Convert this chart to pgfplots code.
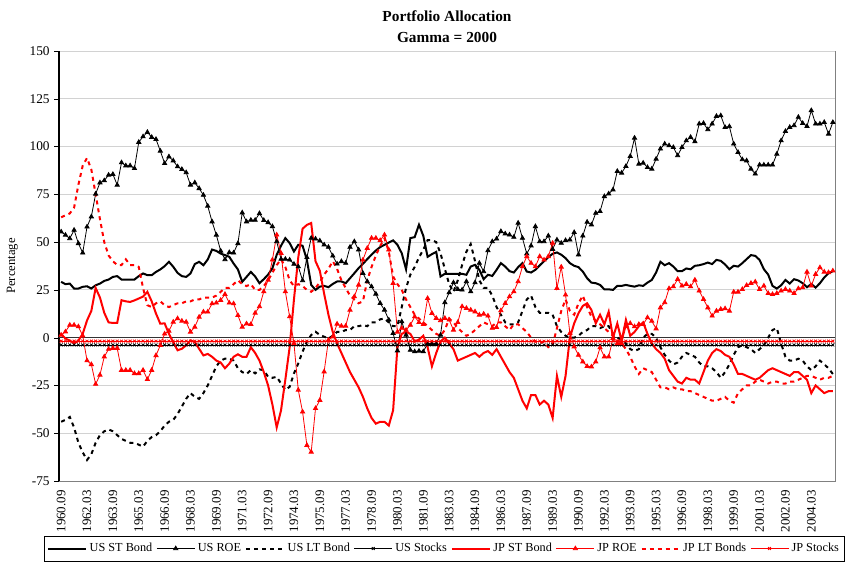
\documentclass[border=0pt]{standalone}
\usepackage{pgfplots}
\pgfplotsset{compat=1.18}
\usepackage{pgfplotstable}
\usepackage{fontspec}
\setmainfont{Liberation Serif}

% quarterly allocations, 1960.09 = 0
\pgfplotstableread{
i usst usroe uslt usstk jpst jproe jplt jpstk
0 29.2 55.4 -44 -3.8 2 1.4 63 -1.8
1 28 53.7 -43 -3.8 -0.5 3.1 64 -1.8
2 28.3 51.9 -41.5 -3.8 -1.5 6.6 65 -1.8
3 25.7 56.3 -47 -3.8 -3 6.6 68 -1.8
4 25.7 49.3 -55 -3.8 -1.5 5.8 80 -1.8
5 26.6 44.4 -60 -3.8 2 1 90 -1.8
6 26.9 58 -64 -3.8 9 -12 94 -1.8
7 25.7 63.3 -61 -3.8 14 -14 88 -1.8
8 27.4 75.2 -55 -3.8 26 -24.3 75 -1.8
9 28.3 81.1 -51 -3.8 21 -19.5 62 -1.8
10 29.7 82.2 -49 -3.8 13 -10 50 -1.8
11 30.4 85.1 -48 -3.8 8 -6 43 -1.8
12 31.8 85.5 -49 -3.8 7.7 -5.5 40 -1.8
13 32.2 79.9 -51 -3.8 7.7 -5.5 38 -1.8
14 30.4 91.6 -53 -3.8 19.6 -17 38 -1.8
15 30.4 90 -54 -3.8 19 -17 41 -1.8
16 30.4 90 -55 -3.8 18.7 -17 38 -1.8
17 30.4 88.6 -55 -3.8 19.5 -18.7 38 -1.8
18 32.2 102.3 -56 -3.8 20.5 -18.7 37 -1.8
19 33.6 105.2 -57 -3.8 21.5 -17 26 -1.8
20 32.7 107.5 -54 -3.8 24 -21.8 17 -1.8
21 32.7 104.9 -52 -3.8 19 -17 16 -1.8
22 34.4 103.8 -51 -3.8 12.6 -9.3 18 -1.8
23 35.7 97.7 -49 -3.8 7.3 -4 19 -1.8
24 37.4 91.2 -46 -3.8 7.5 2 17 -1.8
25 39.7 94.7 -44 -3.8 2 3.5 16 -1.8
26 37.1 92.6 -43 -3.8 -2.3 8.2 17 -1.8
27 33.9 89.5 -40 -3.8 -6.6 10 18 -1.8
28 32.2 88.1 -36 -3.8 -5.8 8.7 18 -1.8
29 31.8 86.4 -32 -3.8 -4 8.2 19 -1.8
30 33.6 79.9 -29 -3.8 -1.4 3 19 -1.8
31 38.5 81.1 -31 -3.8 -2.3 5.6 20 -1.8
32 39.7 78.1 -32 -3.8 -5.8 10.8 20 -1.8
33 37.9 74.6 -29 -3.8 -9.3 13.5 21 -1.8
34 40.9 68.9 -25 -3.8 -8.5 13.5 21 -1.8
35 46.1 60.7 -20 -3.8 -10 17.8 21 -1.8
36 45.4 53.7 -15 -3.8 -12 18.2 22 -1.8
37 44 45.4 -12 -3.8 -13 19.6 24 -1.8
38 43.2 40.9 -11 -3.8 -16 22.7 26 -1.8
39 42.3 44.6 -11 -3.8 -13.6 18.2 26 -1.8
40 38.8 44.4 -12 -3.8 -10 17.8 28 -1.8
41 35.7 49.3 -16 -3.8 -8.7 11.7 30 -1.8
42 29.2 65.4 -18 -3.8 -10 5.6 28 -1.8
43 31.8 60.7 -19 -3.8 -10 7.3 27 -1.8
44 34.4 61.5 -17 -3.8 -5 7 28 -1.8
45 32 61.5 -18.7 -3.8 -8 12.9 25 -1.8
46 28.5 65 -16.6 -3.8 -12 16.3 25 -1.8
47 30.6 61.4 -17 -3.8 -18 24.1 27 -1.8
48 33 60.3 -20.5 -3.8 -25 30.2 30 -1.8
49 36.3 58.2 -21 -3.8 -35 40.7 34 -1.8
50 43.4 50.3 -20.5 -3.8 -47 53.8 38 -1.8
51 48.1 41.1 -24 -3.8 -38 44.2 41 -1.8
52 52.1 41.1 -27.4 -3.8 -22 24.1 37 -1.8
53 49.5 40.7 -25.7 -3.8 -5 11 30 -1.8
54 45.1 38.5 -18.7 -3.8 20 -3 27 -1.8
55 48.6 37.2 -13.5 -3.8 42 -27.4 28 -1.8
56 48.1 29.9 -7.3 -3.8 57 -38.8 27 -1.8
57 40.7 42 -2 -3.8 59 -56.3 25 -1.8
58 27.6 52.1 1.4 -3.8 60 -59.8 24 -1.8
59 25 51.7 3.1 -3.8 40 -37 26 -1.8
60 26.7 50.7 1.4 -3.8 35 -32.7 29 -1.8
61 27.1 48.6 0.5 -3.8 23 -17.8 33 -1.8
62 26.4 47.4 -0.5 -3.8 12 -1.2 36 -1.8
63 28.1 42.8 1 -3.8 3 0.5 40 -1.8
64 29.4 38.6 3 -3.8 -3 7.2 36 -1.8
65 29.4 39.9 3 -3.8 -8 6.1 30 -1.8
66 28.5 39 4 -3.8 -13 6.1 26 -1.8
67 31.1 47.4 4 -3.8 -18 14.5 22 -1.8
68 33.7 50.3 6 -3.8 -22 21.5 20 -1.8
69 36.4 46 6 -3.8 -26 27.6 18 -1.8
70 38.6 33.7 6.6 -3.8 -31 40.7 19 -1.8
71 41.1 29.4 6 -3.8 -37 46.8 30 -1.8
72 43.4 26.7 8 -3.8 -42 52.1 37 -1.8
73 45.6 22.9 8 -3.8 -45 52.1 43 -1.8
74 47.4 18 9.6 -3.8 -44 50.9 48 -1.8
75 48.6 14.5 10 -3.8 -44 53.8 52 -1.8
76 49.8 9.3 8 -3.8 -46 46 45 -1.8
77 50.9 2.3 6 -3.8 -38 28.5 32 -1.8
78 48.6 -6.8 6 -3.8 -5 3 28 -1.8
79 44.2 8.4 16 -3.8 2 5 25 -1.8
80 35.8 1.4 26 -3.8 3 4 20 -1.8
81 52.1 -6.5 33 -3.8 2 6.6 16 -1.8
82 52.6 -7.3 37 -3.8 -2 11 12 -1.8
83 59.1 -7 42 -3.8 -1 8 10 -1.8
84 53.3 -7.3 46 -3.8 1 7 8 -1.8
85 42.3 -3 51 -3.8 -5 20.6 6 -1.8
86 43.7 -3.3 51 -3.8 -15 12.8 4 -1.8
87 44.9 -3 50 -3.8 -8 10.2 2 -1.8
88 32 1.4 44 -3.8 -2 9 1 -1.8
89 33.4 18.4 36 -3.8 0 10.2 4 -1.8
90 33.4 23.6 28 -3.8 -3 9.3 10 -1.8
91 33.4 28.8 24 -3.8 -6 4 8 -1.8
92 33.4 25.3 30 -3.8 -12 8 5 -1.8
93 33.4 25 38 -3.8 -11 16.3 3 -1.8
94 32.9 29.4 45 -3.8 -10 15.4 1 -1.8
95 37.2 24.1 49 -3.8 -9 14.5 2 -1.8
96 38.1 28.8 40 -3.8 -8 13.6 4 -1.8
97 35.5 39 30 -3.8 -10 11.9 6 -1.8
98 30.6 34.6 26 -3.8 -8 12.4 8 -1.8
99 32.9 45.6 26 -3.8 -7 11.4 7 -1.8
100 32.3 50.3 22 -3.8 -9 5 6 -1.8
101 35.5 51.7 16 -3.8 -6 5.4 8 -1.8
102 39 55.6 12 -3.8 -10 14.2 8 -1.8
103 37.2 54.4 8 -3.8 -14 18 6 -1.8
104 34.8 53.8 7 -3.8 -18 21.5 4 -1.8
105 34.1 52.6 7 -3.8 -21 24.1 7 -1.8
106 36.9 60 8 -3.8 -27 29.4 7 -1.8
107 39 52.1 14 -3.8 -33 37.2 5 -1.8
108 34.6 43.9 20 -3.8 -37 42.5 3 -1.8
109 34.1 48.1 22 -3.8 -30 39 0 -1.8
110 35.5 58.2 16 -3.8 -30 37.2 -2 -1.8
111 37.8 50.3 13 -3.8 -35 42.5 -3 -1.8
112 40 50.3 13 -3.8 -33 40.7 -2 -1.8
113 42.1 53.3 13 -3.8 -35 42.5 -5 -1.8
114 43.9 46.3 12 -3.8 -42 49.5 -4 -1.8
115 44.6 51.2 6 -3.8 -20 25.9 5 -1.8
116 43.4 49.5 3 -3.8 -31 37 14 -1.8
117 41.6 50.9 1 -3.8 -20 22.4 20 -1.8
118 39 51.2 0 -3.8 0 2.3 14 -1.8
119 37.6 55.1 0 -3.8 7.5 -4.7 12 -1.8
120 36.9 43.4 1 -3.8 12.8 -9.1 18 -1.8
121 34.6 53.3 3 -3.8 16.6 -12.6 22 -1.8
122 31.1 60.5 4 -3.8 18 -15 16 -1.8
123 28.8 59.1 6 -3.8 14.5 -15.2 11 -1.8
124 28.5 65.2 6 -3.8 7.5 -12.6 9 -1.8
125 27.6 66.1 5 -3.8 12 -5.2 7 -1.8
126 25.3 73.9 6 -3.8 7 -10 5 -1.8
127 25.3 75.3 6 -3.8 13.6 -10 3 -1.8
128 25 77.4 2 -3.8 0 -0.3 1 -1.8
129 27.1 87.1 0 -3.8 7.5 -3 -1 -1.8
130 27.1 86.2 -1 -3.8 -1.7 -3 -3 -1.8
131 27.6 89.7 -3 -3.8 9.3 5.8 -6 -1.8
132 27.1 94.9 -6 -3.8 1 7.5 -10 -1.8
133 26.7 104.5 -7 -3.8 3 5.8 -15 -1.8
134 27.4 90.9 -6 -3.8 6 7 -19 -1.8
135 27.1 91.4 0 -3.8 8 7 -16 -1.8
136 28.8 89.1 2 -3.8 2 10.5 -17 -1.8
137 30.2 88.3 2 -3.8 -3 8.7 -18 -1.8
138 34.1 93.5 0 -3.8 -6 4.7 -22 -1.8
139 39.7 98.8 -5 -3.8 -8 15.7 -26 -1.8
140 37.9 101.4 -9 -3.8 -11 18.4 -26 -1.8
141 39 100.5 -12 -3.8 -17 25.7 -27 -1.8
142 37.2 99.6 -14 -3.8 -20 26.7 -26 -1.8
143 34.8 95.3 -13 -3.8 -23 30.6 -27 -1.8
144 34.8 99.6 -10 -3.8 -24 27.1 -27 -1.8
145 36.2 103.1 -8 -3.8 -21 28 -28 -1.8
146 35.8 104.9 -9 -3.8 -22 26.7 -28 -1.8
147 37.6 102.6 -10 -3.8 -22 30.2 -29 -1.8
148 37.9 111.9 -13 -3.8 -24 24.5 -30 -1.8
149 38.5 112.2 -15 -3.8 -18 20.1 -31 -1.8
150 39.3 108.9 -15 -3.8 -12 15.7 -32 -1.8
151 38.5 111.9 -16 -3.8 -8 11.4 -33 -1.8
152 40.7 115.9 -18 -3.8 -6 14 -33 -1.8
153 40.2 116.2 -21 -3.8 -7 14.9 -32 -1.8
154 38.3 110.1 -18 -3.8 -9 15.2 -31 -1.8
155 35.8 110.5 -14 -3.8 -10 14 -33 -1.8
156 37.6 101.4 -9 -3.8 -14 23.9 -34 -1.8
157 37.2 97 -5 -3.8 -19 23.9 -29 -1.8
158 39 93.2 -4 -3.8 -19 25.3 -27 -1.8
159 41.1 92.6 -5 -3.8 -20 27.4 -25 -1.8
160 43.2 88.3 -6 -3.8 -21 28.5 -25 -1.8
161 42.8 85.7 -8 -3.8 -22 29.2 -23 -1.8
162 40.7 90.4 -6 -3.8 -21 25.3 -22 -1.8
163 35.8 90.4 -4 -3.8 -19 27.1 -23 -1.8
164 33 90.4 0 -3.8 -17 23.2 -24 -1.8
165 27.1 90.4 4 -3.8 -16 22.7 -23 -1.8
166 25.7 96.1 5 -3.8 -17 23.2 -23 -1.8
167 27.4 103.1 -3 -3.8 -18 24.5 -24 -1.8
168 30.2 108 -10 -3.8 -19 25.3 -24 -1.8
169 28.3 110.1 -12 -3.8 -20 24.5 -23 -1.8
170 30.6 111 -12 -3.8 -18 23.2 -23 -1.8
171 29.9 115.4 -11 -3.8 -18 25.7 -22 -1.8
172 28.5 112.2 -12 -3.8 -20 26.2 -21 -1.8
173 26.4 110.6 -15 -3.8 -22 34.4 -20 -1.8
174 28.1 118.9 -17 -3.8 -29 27.1 -20 -1.8
175 26.2 111.9 -15 -3.8 -25 33.2 -21 -1.8
176 28.5 111.9 -12 -3.8 -27 36.7 -22 -1.8
177 31.5 112.7 -14 -3.8 -29 34.4 -21 -1.8
178 33.7 106.6 -16 -3.8 -28 34.1 -21 -1.8
179 34.8 112.7 -19 -3.8 -28 35 -20 -1.8
}\alloc

\begin{document}
\begin{tikzpicture}
\begin{axis}[
  name=ax,
  scale only axis,
  width=582pt, height=322.5pt,
  xmin=-0.5, xmax=179.5,
  ymin=-75, ymax=150,
  ytick={-75,-50,...,150},
  xtick={0,6,...,174},
  xticklabels={1960.09,1962.03,1963.09,1965.03,1966.09,1968.03,1969.09,1971.03,1972.09,1974.03,1975.09,1977.03,1978.09,1980.03,1981.09,1983.03,1984.09,1986.03,1987.09,1989.03,1990.09,1992.03,1993.09,1995.03,1996.09,1998.03,1999.09,2001.03,2002.09,2004.03},
  xticklabel style={rotate=90, anchor=east, font=\fontsize{9.7}{11}\selectfont},
  yticklabel style={font=\fontsize{10}{12}\selectfont},
  /pgf/number format/assume math mode=true,
  axis y line*=left, axis x line*=bottom,
  x axis line style={draw=gray},
  y axis line style={black, line width=0.8pt},
  axis background/.style={draw=gray},
  xtick style={draw=none},
  ytick style={black},
  tick align=outside, major tick length=3.5pt,
  ymajorgrids, major grid style={gray!35, line width=0.6pt},
  extra y ticks={0}, extra y tick labels={},
  extra y tick style={grid=major, major grid style={black!80, line width=1.2pt}, tick style={draw=none}},
  ylabel={Percentage}, ylabel shift=-5pt,
  ylabel style={font=\fontsize{9.5}{11}\selectfont},
  title={Portfolio Allocation\\Gamma = 2000},
  title style={align=center, yshift=-3pt, font=\bfseries\fontsize{11.5}{15.5}\selectfont},
  legend style={at={(axis description cs:0.5,0)}, anchor=north, yshift=-41pt, xshift=-2pt,
    legend columns=8, draw=black,
    font=\fontsize{9.2}{11}\selectfont, inner xsep=2pt, inner ysep=3.5pt,
    /tikz/every even column/.append style={column sep=1pt}},
  legend cell align=left,
  legend image code/.code={\draw[mark repeat=2,mark phase=2] plot coordinates {(0cm,0cm) (0.5cm,0cm) (1cm,0cm)};},
]
\addplot[black, line width=1.5pt] table[x=i, y=usst] {\alloc};
\addlegendentry{US ST Bond}
\addplot[black, line width=0.6pt, mark=triangle*, mark size=1.8pt] table[x=i, y=usroe] {\alloc};
\addlegendentry{US ROE}
\addplot[black, line width=1.5pt, dash pattern=on 3pt off 3pt] table[x=i, y=uslt] {\alloc};
\addlegendentry{US LT Bond}
\addplot[black, line width=0.6pt, mark=x, mark size=1.5pt] table[x=i, y=usstk] {\alloc};
\addlegendentry{US Stocks}
\addplot[red, line width=1.5pt] table[x=i, y=jpst] {\alloc};
\addlegendentry{JP ST Bond}
\addplot[red, line width=0.6pt, mark=triangle*, mark size=1.8pt] table[x=i, y=jproe] {\alloc};
\addlegendentry{JP ROE}
\addplot[red, line width=1.5pt, dash pattern=on 3pt off 3pt] table[x=i, y=jplt] {\alloc};
\addlegendentry{JP LT Bonds}
\addplot[red, line width=0.6pt, mark=x, mark size=1.5pt] table[x=i, y=jpstk] {\alloc};
\addlegendentry{JP Stocks}
\end{axis}
\pgfresetboundingbox
\path[use as bounding box] ([xshift=-44.25pt,yshift=-64.5pt]ax.south west) rectangle ([xshift=9pt,yshift=38.25pt]ax.north east);
\end{tikzpicture}
\end{document}
